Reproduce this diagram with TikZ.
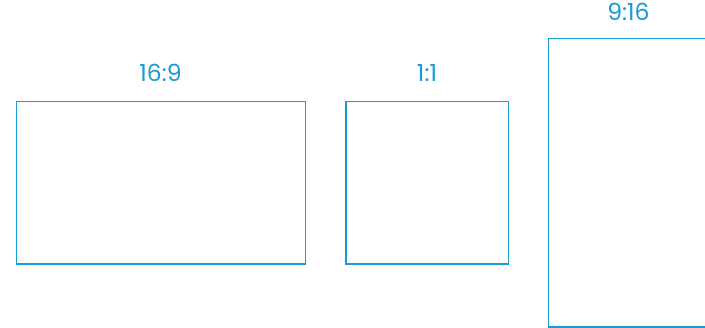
\documentclass[tikz,border=0pt]{standalone}
\usepackage{fontspec}
\setmainfont{Poppins}
\definecolor{frameblue}{RGB}{26,154,214}
\begin{document}
\begin{tikzpicture}[x=1pt,y=-1pt,
  frame/.style={draw=frameblue,line width=1.4pt},
  ratiolabel/.style={text=frameblue,font=\fontsize{23.5}{23.5}\selectfont,inner sep=0pt,anchor=base}]
\useasboundingbox (0,0) rectangle (705,328);
\clip (0,0) rectangle (705,328);
\draw[frame] (16.5,101.5) rectangle (305.5,264);
\node[ratiolabel] (lw) at (160.5,81.5) {16:9};
\draw[frame] (345.8,101.5) rectangle (508.5,264);
\node[ratiolabel] (ls) at (427,81.5) {1:1};
\draw[frame] (548.5,38.5) rectangle (712,327);
\node[ratiolabel] (lt) at (628.5,20.5) {9:16};
\end{tikzpicture}
\end{document}
